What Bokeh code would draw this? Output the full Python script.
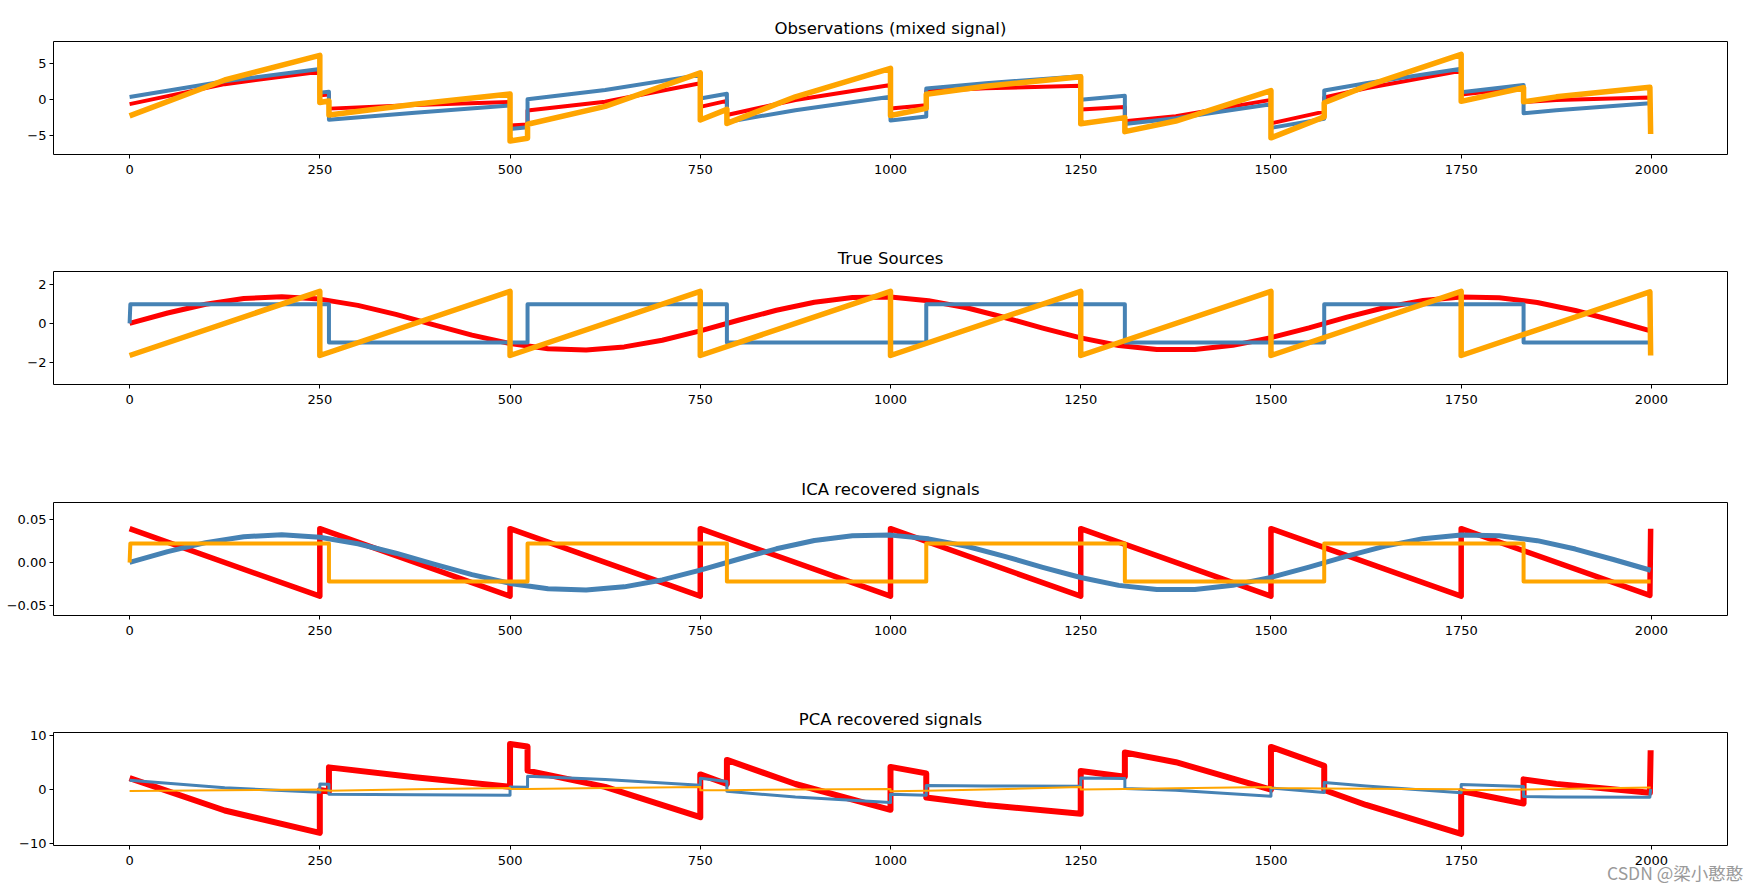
from bokeh.plotting import figure
from bokeh.layouts import column
from bokeh.models import FixedTicker, Range1d, Div
from bokeh.embed import file_html
from bokeh.resources import INLINE

# ---------------- data ----------------
x_ticks = [0, 250, 500, 750, 1000, 1250, 1500, 1750, 2000]

# sample positions for the combined (mixed / PCA) series
x_mix = [0, 125, 250, 250, 262, 262, 375, 500, 500, 523, 523, 625, 750, 750, 785, 785, 875,
         1000, 1000, 1047, 1047, 1125, 1250, 1250, 1308, 1308, 1375, 1500, 1500, 1570, 1570,
         1625, 1750, 1750, 1832, 1832, 1875, 1998, 1999]

obs_red = [-0.66, 2.12, 3.86, 0.58, 0.67, -1.29, -0.79, -0.37, -3.65, -3.50, -1.54, -0.32, 2.24,
           -1.04, -0.21, -2.17, -0.09, 2.01, -1.27, -0.83, 1.14, 1.54, 1.88, -1.40, -1.07, -3.03,
           -2.34, -0.07, -3.35, -1.71, 0.25, 1.55, 3.97, 0.69, 1.60, -0.36, -0.10, 0.25, -3.00]
obs_blue = [0.32, 2.53, 4.22, 0.94, 1.07, -2.85, -1.86, -0.84, -4.12, -3.89, 0.03, 1.31, 3.41,
            0.13, 0.78, -3.14, -1.51, 0.35, -2.93, -2.39, 1.53, 2.24, 3.23, -0.05, 0.49, -3.43,
            -2.64, -0.69, -3.97, -2.69, 1.23, 2.25, 4.27, 0.99, 1.99, -1.93, -1.52, -0.54, -3.79]
obs_orange = [-2.30, 2.70, 6.12, -0.44, -0.22, -2.18, -0.69, 0.76, -5.80, -5.42, -3.46, -0.98,
              3.69, -2.87, -1.39, -3.35, 0.36, 4.32, -2.24, -1.26, 0.70, 1.82, 3.15, -3.41,
              -2.54, -4.50, -3.02, 1.21, -5.36, -2.44, -0.48, 1.84, 6.28, -0.28, 1.62, -0.34,
              0.35, 1.68, -4.83]

x_sine = [0, 50, 100, 150, 200, 250, 300, 350, 400, 450, 500, 550, 600, 650, 700, 750, 800,
          850, 900, 950, 1000, 1050, 1100, 1150, 1200, 1250, 1300, 1350, 1400, 1450, 1500,
          1550, 1600, 1650, 1700, 1750, 1800, 1850, 1900, 1950, 1999]
x_square = [0, 1, 262, 262, 523, 523, 785, 785, 1047, 1047, 1308, 1308, 1570, 1570, 1832, 1832, 1999]
x_saw = [0, 250, 250, 500, 500, 750, 750, 1000, 1000, 1250, 1250, 1500, 1500, 1750, 1750, 1998, 1999]

src_red = [0.0, 0.53, 0.98, 1.27, 1.36, 1.24, 0.92, 0.46, -0.08, -0.60, -1.03, -1.29, -1.36,
           -1.20, -0.86, -0.38, 0.16, 0.67, 1.08, 1.32, 1.35, 1.16, 0.80, 0.30, -0.24, -0.74,
           -1.13, -1.33, -1.33, -1.12, -0.73, -0.23, 0.32, 0.81, 1.17, 1.35, 1.31, 1.07, 0.66,
           0.15, -0.38]
src_blue = [0.0, 0.98, 0.98, -0.98, -0.98, 0.98, 0.98, -0.98, -0.98, 0.98, 0.98, -0.98, -0.98,
            0.98, 0.98, -0.98, -0.98]
src_orange = [-1.64, 1.64, -1.64, 1.64, -1.64, 1.64, -1.64, 1.64, -1.64, 1.64, -1.64, 1.64,
              -1.64, 1.64, -1.64, 1.61, -1.64]

ica_red = [0.039, -0.039, 0.039, -0.039, 0.039, -0.039, 0.039, -0.039, 0.039, -0.039, 0.039,
           -0.039, 0.039, -0.039, 0.039, -0.038, 0.039]
ica_blue = [0.0, 0.0125, 0.0229, 0.0298, 0.0319, 0.0291, 0.0216, 0.0107, -0.0019, -0.0141,
            -0.0242, -0.0304, -0.0318, -0.0282, -0.0202, -0.0089, 0.0037, 0.0158, 0.0254,
            0.0309, 0.0316, 0.0273, 0.0187, 0.0071, -0.0056, -0.0174, -0.0265, -0.0313,
            -0.0313, -0.0263, -0.0172, -0.0053, 0.0074, 0.0189, 0.0275, 0.0317, 0.0309,
            0.0252, 0.0155, 0.0034, -0.0090]
ica_orange = [0.0, 0.022, 0.022, -0.022, -0.022, 0.022, 0.022, -0.022, -0.022, 0.022, 0.022,
              -0.022, -0.022, 0.022, 0.022, -0.022, -0.022]

pca_red = [2.12, -3.85, -7.96, -0.08, -0.35, 4.09, 2.28, 0.51, 8.39, 7.92, 3.48, 0.50, -5.08,
           2.79, 1.02, 5.46, 1.03, -3.71, 4.17, 2.98, -1.46, -2.82, -4.44, 3.43, 2.38, 6.82,
           5.04, -0.02, 7.85, 4.37, -0.07, -2.83, -8.15, -0.27, -2.56, 1.88, 1.05, -0.58, 7.23]
pca_blue = [1.72, 0.32, -0.50, 1.03, 0.99, -0.84, -0.97, -1.04, 0.48, 0.42, 2.45, 1.85, 0.80,
            2.10, 1.51, -0.31, -1.37, -2.38, -0.86, -1.05, 0.77, 0.65, 0.62, 2.14, 2.04, 0.21,
            -0.10, -1.21, 0.31, -0.52, 1.30, 0.64, -0.56, 0.96, 0.56, -1.27, -1.36, -1.40, 0.11]
pca_orange = [-0.25, -0.1, 0.0, -0.1, -0.15, -0.2, 0.05, 0.3, 0.1, 0.1, 0.1, 0.3, 0.5, -0.1,
              -0.1, -0.1, 0.0, 0.1, -0.3, -0.2, -0.2, 0.0, 0.5, 0.0, 0.1, 0.1, 0.25, 0.5, 0.3,
              0.2, 0.2, 0.15, 0.05, -0.1, 0.0, 0.0, 0.1, 0.4, 0.4]

titles = ["Observations (mixed signal)", "True Sources", "ICA recovered signals",
          "PCA recovered signals"]
colors = ["red", "steelblue", "orange"]
watermark = "CSDN @梁小憨憨"

# ---------------- styling helpers ----------------
FONT = "DejaVu Sans"


def make_panel(title, yr, yticks, ylabels, height, top, bottom):
    p = figure(width=1740, height=height, x_range=Range1d(-100, 2100),
               y_range=Range1d(yr[0], yr[1]), output_backend="svg",
               toolbar_location=None, min_border_left=53, min_border_right=13,
               min_border_top=top, min_border_bottom=bottom, title=title)
    p.title.align = "center"
    p.title.text_font = FONT
    p.title.text_font_size = "16.5px"
    p.title.text_font_style = "normal"
    p.title.text_color = "black"
    p.title.standoff = 7
    p.grid.visible = False
    p.outline_line_color = "black"
    p.outline_line_width = 1
    p.background_fill_color = "white"
    p.border_fill_color = "white"
    for ax in (p.xaxis[0], p.yaxis[0]):
        ax.axis_line_color = None
        ax.major_tick_out = 4
        ax.major_tick_in = 0
        ax.minor_tick_line_color = None
        ax.major_tick_line_color = "black"
        ax.major_label_text_font = FONT
        ax.major_label_text_font_size = "13px"
        ax.major_label_text_color = "black"
    p.xaxis.ticker = FixedTicker(ticks=x_ticks)
    p.xaxis.major_label_standoff = 6
    p.yaxis.ticker = FixedTicker(ticks=yticks)
    p.yaxis.major_label_overrides = {t: l for t, l in zip(yticks, ylabels)}
    p.yaxis.major_label_standoff = 3
    return p


p1 = make_panel(titles[0], (-7.68, 8.06), [-5, 0, 5], ["\u22125", "0", "5"], 238, 41, 84)
p1.line(x_mix, obs_red, color=colors[0], line_width=4, line_join="round")
p1.line(x_mix, obs_blue, color=colors[1], line_width=4, line_join="round")
p1.line(x_mix, obs_orange, color=colors[2], line_width=5.5, line_join="round")

p2 = make_panel(titles[1], (-3.12, 2.65), [-2, 0, 2], ["\u22122", "0", "2"], 231, 33, 85)
p2.line(x_sine, src_red, color=colors[0], line_width=5, line_join="round")
p2.line(x_square, src_blue, color=colors[1], line_width=4, line_join="round")
p2.line(x_saw, src_orange, color=colors[2], line_width=5.5, line_join="round")

p3 = make_panel(titles[2], (-0.0613, 0.0693), [-0.05, 0.0, 0.05],
                ["\u22120.05", "0.00", "0.05"], 230, 33, 84)
p3.line(x_saw, ica_red, color=colors[0], line_width=5.5, line_join="round")
p3.line(x_sine, ica_blue, color=colors[1], line_width=5, line_join="round")
p3.line(x_square, ica_orange, color=colors[2], line_width=4, line_join="round")

p4 = make_panel(titles[3], (-10.28, 10.5), [-10, 0, 10], ["\u221210", "0", "10"], 186, 33, 40)
p4.line(x_mix, pca_red, color=colors[0], line_width=6, line_join="round")
p4.line(x_mix, pca_blue, color=colors[1], line_width=3, line_join="round")
p4.line(x_mix, pca_orange, color=colors[2], line_width=2, line_join="round")

wm = Div(text=watermark, width=150, height=24,
         styles={"position": "absolute", "left": "1602px", "top": "856px",
                 "color": "#9a9a9a", "font-family": "'Noto Sans CJK SC'",
                 "font-size": "17.5px", "white-space": "nowrap", "line-height": "24px",
                 "z-index": "10"})

layout = column(p1, p2, p3, p4, wm, spacing=0)
open("out.html", "w").write(file_html(layout, INLINE))
